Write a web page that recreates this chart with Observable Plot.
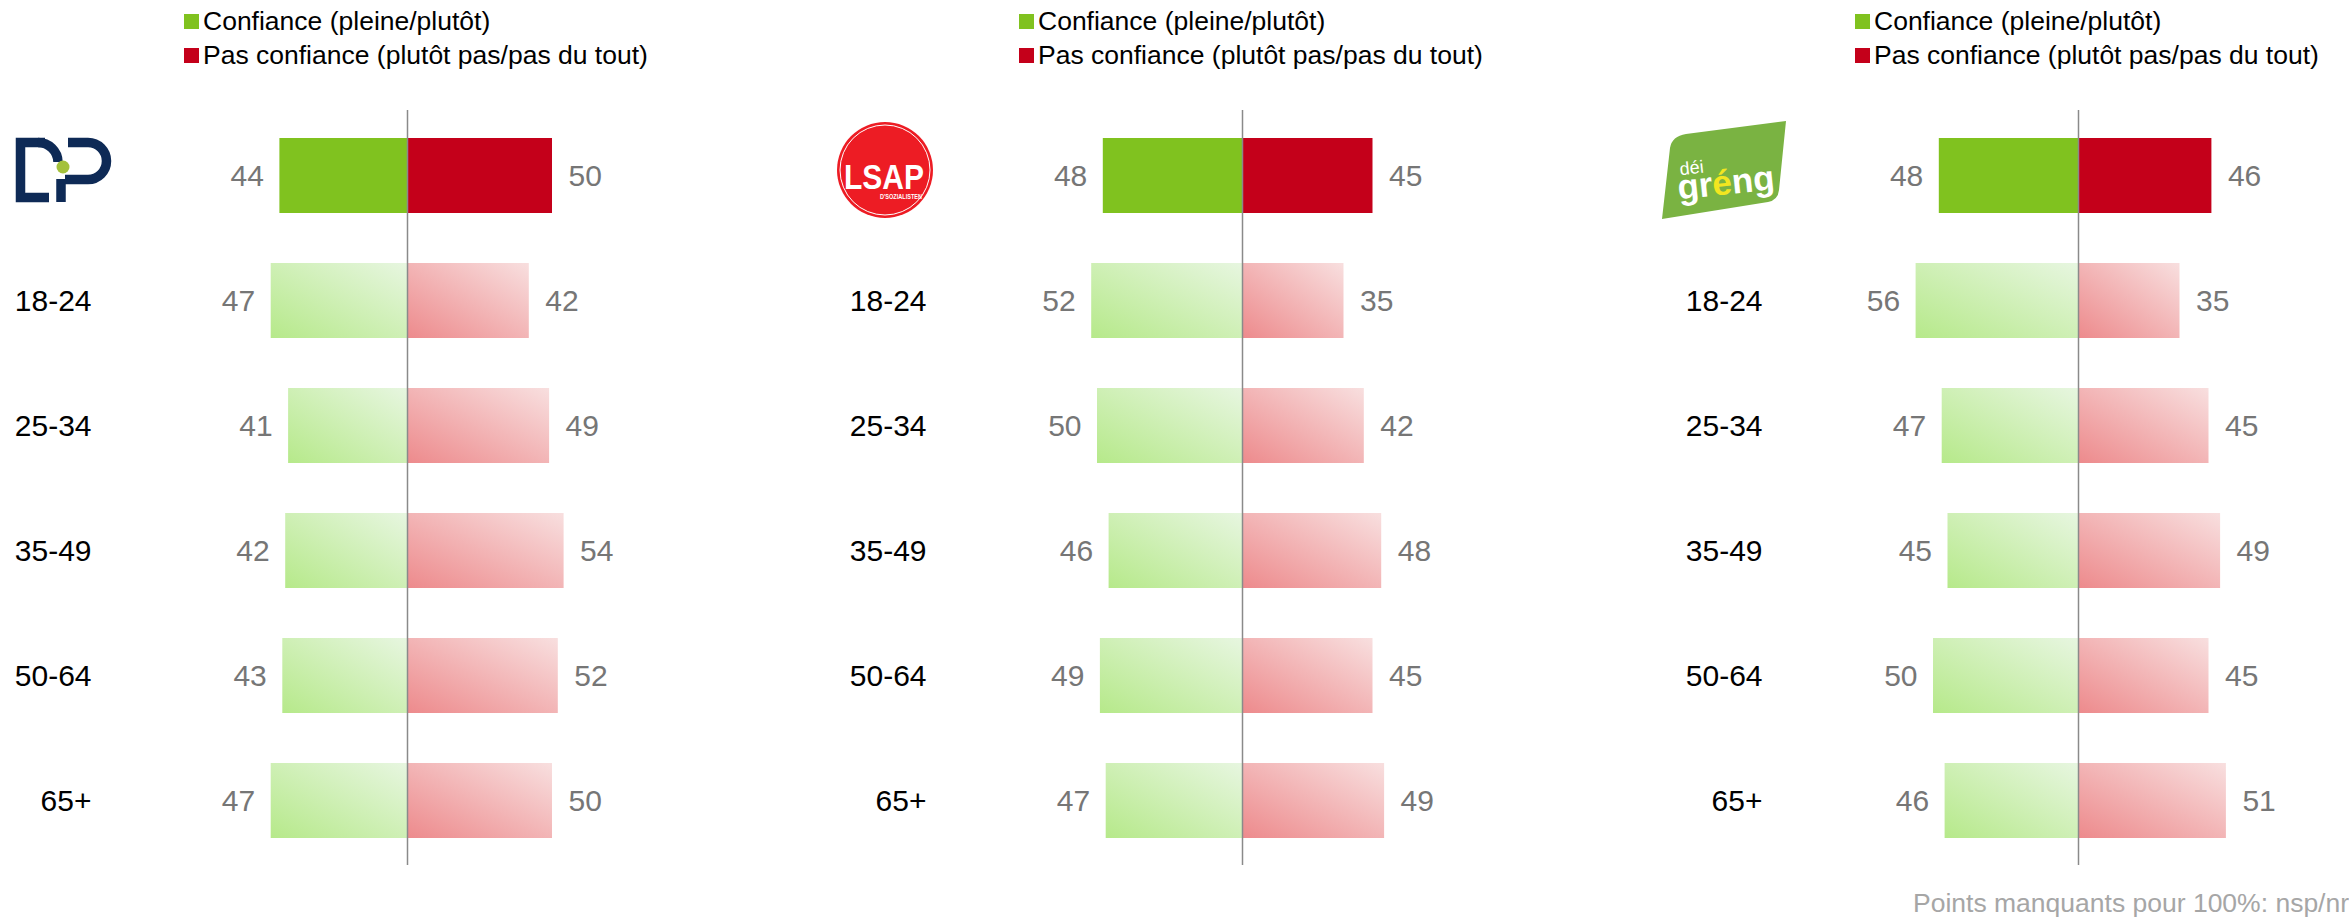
<!DOCTYPE html>
<html>
<head>
<meta charset="utf-8">
<script src="https://cdn.jsdelivr.net/npm/d3@7"></script>
<script src="https://cdn.jsdelivr.net/npm/@observablehq/plot@0.6"></script>
<style>
  html, body { margin: 0; padding: 0; background: #fff; }
  body { width: 2349px; height: 917px; overflow: hidden; position: relative;
         font-family: "Liberation Sans", Arial, Helvetica, sans-serif; }
  .panel { position: absolute; top: 0; width: 834px; height: 917px; }
  .legend { position: absolute; top: 4px; left: 184px; font-size: 26.5px; line-height: 34px;
            color: #000; white-space: nowrap; }
  .legend .item { display: flex; align-items: center; }
  .legend .sw { display: inline-block; width: 15px; height: 15px; margin-right: 4px; }
  .foot { position: absolute; left: 1913px; top: 888px; font-size: 26.5px; line-height: 30px;
          color: #a6a6a6; white-space: nowrap; }
  #logos { position: absolute; left: 0; top: 0; }
</style>
</head>
<body>
<div id="root"></div>
<script>
// ---- data ----
const categories = ["Total", "18-24", "25-34", "35-49", "50-64", "65+"];
const parties = ["DP", "LSAP", "déi gréng"];
const dpConfiance = [44, 47, 41, 42, 43, 47];
const dpPasConfiance = [50, 42, 49, 54, 52, 50];
const lsapConfiance = [48, 52, 50, 46, 49, 47];
const lsapPasConfiance = [45, 35, 42, 48, 45, 49];
const grengConfiance = [48, 56, 47, 45, 50, 46];
const grengPasConfiance = [46, 35, 45, 49, 45, 51];
const legendLabels = ["Confiance (pleine/plutôt)", "Pas confiance (plutôt pas/pas du tout)"];
const footnote = "Points manquants pour 100%: nsp/nr";

// ---- styles ----
const GREEN = "#80c21f";
const RED = "#c4001a";
const PX = 2.9;          // pixels per percentage point
const ZERO = 407;        // zero position inside each panel
const panelLeft = [0, 835, 1671];
const FONT = '"Liberation Sans", Arial, Helvetica, sans-serif';

const series = [
  [dpConfiance, dpPasConfiance],
  [lsapConfiance, lsapPasConfiance],
  [grengConfiance, grengPasConfiance]
];

function defsMark(id) {
  return () => {
    const defs = d3.create("svg:defs");
    const g = defs.append("linearGradient").attr("id", "gg" + id)
      .attr("x1", 0).attr("y1", 1).attr("x2", 1).attr("y2", 0);
    g.append("stop").attr("offset", "0%").attr("stop-color", "#b6e98a");
    g.append("stop").attr("offset", "100%").attr("stop-color", "#e7f6e0");
    const r = defs.append("linearGradient").attr("id", "rg" + id)
      .attr("x1", 0).attr("y1", 1).attr("x2", 1).attr("y2", 0);
    r.append("stop").attr("offset", "0%").attr("stop-color", "#ed8a8c");
    r.append("stop").attr("offset", "100%").attr("stop-color", "#f8dfdf");
    return defs.node();
  };
}

function chart(conf, pas, id) {
  const rows = categories.map((c, i) => ({cat: c, conf: conf[i], pas: pas[i], total: i === 0}));
  return Plot.plot({
    width: 834,
    height: 917,
    marginTop: 110,
    marginBottom: 52,
    marginLeft: 91,
    marginRight: 0,
    style: {fontFamily: FONT, background: "transparent", color: "#000", overflow: "visible"},
    x: {domain: [-60, 60], range: [ZERO - 60 * PX, ZERO + 60 * PX], axis: null},
    y: {domain: categories, paddingInner: 0.4, paddingOuter: 0.2, label: null},
    marks: [
      defsMark(id),
      Plot.barX(rows, {filter: d => d.total, y: "cat", x1: d => -d.conf, x2: 0, fill: GREEN}),
      Plot.barX(rows, {filter: d => d.total, y: "cat", x1: 0, x2: "pas", fill: RED}),
      Plot.barX(rows, {filter: d => !d.total, y: "cat", x1: d => -d.conf, x2: 0, fill: `url(#gg${id})`}),
      Plot.barX(rows, {filter: d => !d.total, y: "cat", x1: 0, x2: "pas", fill: `url(#rg${id})`}),
      Plot.ruleX([0], {stroke: "#8a8a8a", strokeWidth: 1.5}),
      Plot.text(rows, {y: "cat", x: d => -d.conf, text: d => String(d.conf), textAnchor: "end",
                       dx: -16, fill: "#767676", fontSize: 30}),
      Plot.text(rows, {y: "cat", x: "pas", text: d => String(d.pas), textAnchor: "start",
                       dx: 16, fill: "#767676", fontSize: 30}),
      Plot.axisY({tickSize: 0, tickPadding: 0, fontSize: 30, fill: "#000",
                  tickFormat: d => (d === categories[0] ? "" : d), label: null})
    ]
  });
}

const root = document.getElementById("root");
series.forEach(([conf, pas], i) => {
  const panel = document.createElement("div");
  panel.className = "panel";
  panel.style.left = panelLeft[i] + "px";
  panel.appendChild(chart(conf, pas, i));
  const legend = document.createElement("div");
  legend.className = "legend";
  [GREEN, RED].forEach((col, k) => {
    const item = document.createElement("div");
    item.className = "item";
    const sw = document.createElement("span");
    sw.className = "sw";
    sw.style.background = col;
    item.appendChild(sw);
    item.appendChild(document.createTextNode(legendLabels[k]));
    legend.appendChild(item);
  });
  panel.appendChild(legend);
  root.appendChild(panel);
});

// ---- party logos (decorative) ----
const logos = d3.select(root).append("svg").attr("id", "logos")
  .attr("width", 2349).attr("height", 917);

// DP
const dp = logos.append("g").attr("fill", "none").attr("stroke", "#0e2a56").attr("stroke-width", 9.5);
dp.append("path").attr("d", "M45,142.5 H20.5 V197.5 H49");
dp.append("path").attr("d", "M38,142.5 A20,20 0 0 1 58,162");
dp.append("path").attr("d", "M61,179 V202");
dp.append("path").attr("d", "M68,142.5 H88 A18.5,18.5 0 0 1 88,179.5 H65");
logos.append("circle").attr("cx", 63).attr("cy", 167).attr("r", 6.5).attr("fill", "#a4c13b");

// LSAP
logos.append("circle").attr("cx", 885).attr("cy", 170).attr("r", 48).attr("fill", "#ed1c24");
logos.append("circle").attr("cx", 885).attr("cy", 170).attr("r", 45).attr("fill", "none")
  .attr("stroke", "#fff").attr("stroke-width", 1);
logos.append("text").attr("x", 844).attr("y", 189).attr("fill", "#fff")
  .attr("font-family", FONT).attr("font-weight", "bold").attr("font-size", 35)
  .attr("textLength", 80).attr("lengthAdjust", "spacingAndGlyphs").text(parties[1]);
logos.append("text").attr("x", 880).attr("y", 199).attr("fill", "#fff")
  .attr("font-family", FONT).attr("font-weight", "bold").attr("font-size", 6.5)
  .attr("textLength", 42).attr("lengthAdjust", "spacingAndGlyphs").text("D'SOZIALISTEN");

// déi gréng
logos.append("path")
  .attr("d", "M1686,134 L1786,121 L1779,190 Q1778,200 1768,202 L1662,219 L1670,148 Q1672,136 1686,134 Z")
  .attr("fill", "#7ab342");
const gt = logos.append("g").attr("transform", "rotate(-6 1720 180)")
  .attr("font-family", FONT).attr("fill", "#fff");
gt.append("text").attr("x", 1681).attr("y", 171).attr("font-size", 18).text("déi");
const g2 = gt.append("text").attr("x", 1677).attr("y", 195).attr("font-size", 35).attr("font-weight", "bold");
g2.append("tspan").text("gr");
g2.append("tspan").attr("fill", "#f3e620").text("é");
g2.append("tspan").text("ng");

// footnote
const foot = document.createElement("div");
foot.className = "foot";
foot.textContent = footnote;
root.appendChild(foot);
</script>
</body>
</html>
